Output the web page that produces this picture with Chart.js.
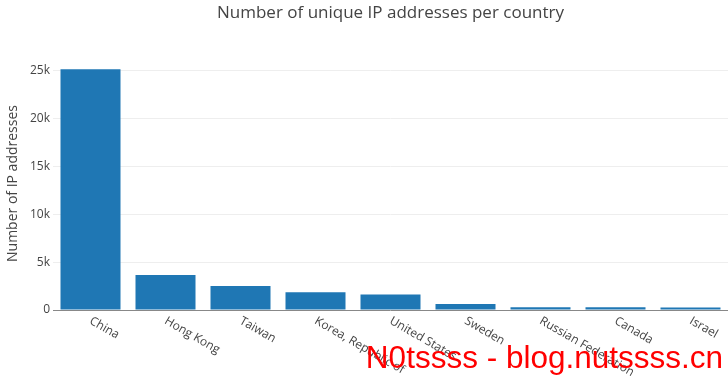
<!DOCTYPE html>
<html><head><meta charset="utf-8">
<script src="https://cdn.jsdelivr.net/npm/chart.js@4/dist/chart.umd.min.js"></script>
<style>html,body{margin:0;padding:0;background:#fff}#wrap{width:728px;height:380px}</style>
</head><body><div id="wrap"><canvas id="c"></canvas></div>
<script>
const titleText = "Number of unique IP addresses per country";
const yTitle = "Number of IP addresses";
const countries = ["China","Hong Kong","Taiwan","Korea, Republic of","United States","Sweden","Russian Federation","Canada","Israel"];
const ipCounts = [25120, 3650, 2500, 1840, 1630, 630, 290, 280, 270];
const yTicks = [0, 5000, 10000, 15000, 20000, 25000];
const watermark = "N0tssss - blog.nutssss.cn";

const FONT = "'Open Sans', 'DejaVu Sans', sans-serif";
const TXT = '#444';

const overlay = {
  id: 'overlay',
  afterDraw(chart) {
    const ctx = chart.ctx, ca = chart.chartArea, xs = chart.scales.x;
    ctx.save();
    ctx.fillStyle = TXT;
    ctx.font = '17px ' + FONT;
    ctx.textAlign = 'center';
    ctx.textBaseline = 'middle';
    ctx.fillText(titleText, (ca.left + ca.right) / 2, 13);
    ctx.font = '12px ' + FONT;
    ctx.textAlign = 'left';
    ctx.textBaseline = 'middle';
    countries.forEach((c, i) => {
      const x = xs.getPixelForValue(i);
      ctx.save();
      ctx.translate(x, ca.bottom + 10);
      ctx.rotate(Math.PI / 6);
      ctx.fillText(c, 0, 0);
      ctx.restore();
    });
    ctx.fillStyle = '#ff0000';
    ctx.font = '31.5px "Liberation Sans", Arial, sans-serif';
    ctx.textAlign = 'right';
    ctx.textBaseline = 'alphabetic';
    ctx.fillText(watermark, 723, 368);
    ctx.restore();
  }
};

new Chart(document.getElementById('c'), {
  type: 'bar',
  data: {
    labels: countries,
    datasets: [{
      data: ipCounts,
      backgroundColor: '#1f77b4',
      borderWidth: 0,
      categoryPercentage: 0.8,
      barPercentage: 1.0
    }]
  },
  options: {
    responsive: true,
    maintainAspectRatio: false,
    animation: false,
    layout: { padding: { top: 57, right: 0, bottom: 0, left: 0 } },
    plugins: { legend: { display: false }, tooltip: { enabled: false }, title: { display: false } },
    scales: {
      x: {
        grid: { display: false, drawTicks: false },
        border: { display: false },
        ticks: { display: false },
        afterFit(s) { s.height = 70; }
      },
      y: {
        min: 0,
        max: 26400,
        afterBuildTicks(s) { s.ticks = yTicks.map(v => ({ value: v })); },
        ticks: {
          includeBounds: false,
          padding: 3,
          color: TXT,
          font: { family: FONT, size: 12 },
          callback: v => v === 0 ? '0' : (v / 1000) + 'k'
        },
        grid: {
          drawTicks: false,
          color: ctx => ctx.tick && ctx.tick.value === 0 ? '#888' : '#eeeeee',
          lineWidth: 1
        },
        border: { display: false },
        title: {
          display: true,
          text: yTitle,
          color: TXT,
          font: { family: FONT, size: 14 },
          padding: { top: 5, bottom: 4 }
        },
        afterFit(s) { s.width = 53; }
      }
    }
  },
  plugins: [overlay]
});
</script>
</body></html>
